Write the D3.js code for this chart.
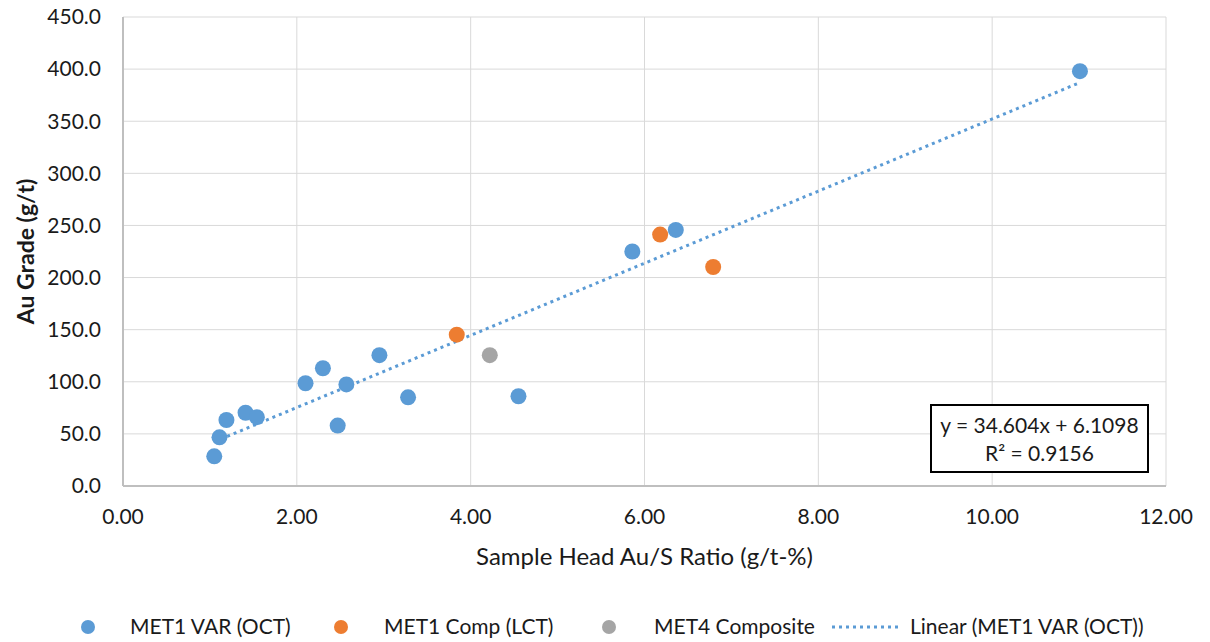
<!DOCTYPE html>
<html>
<head>
<meta charset="utf-8">
<script src="https://cdn.jsdelivr.net/npm/d3@7"></script>
<style>
  body { margin: 0; background: #fff; }
  text { font-family: Lato, "Open Sans", sans-serif; fill: #1a1a1a; }
</style>
</head>
<body>
<svg id="chart" width="1210" height="642"></svg>
<script>
// series values
const varX = [1.05, 1.11, 1.19, 1.41, 1.54, 2.10, 2.30, 2.47, 2.57, 2.95, 3.28, 4.55, 5.86, 6.36, 11.01];
const varY = [28.5, 46.7, 63.3, 70.3, 66.0, 98.6, 113.0, 58.0, 97.5, 125.5, 85.1, 86.1, 225.0, 245.7, 398.0];
const compX = [3.84, 6.18, 6.79];
const compY = [145.2, 241.2, 210.1];
const met4X = [4.22];
const met4Y = [125.5];

const trendSlope = 34.604, trendIntercept = 6.1098, trendR2 = 0.9156;

const xTicks = [0, 2, 4, 6, 8, 10, 12];
const yTicks = [0, 50, 100, 150, 200, 250, 300, 350, 400, 450];

const seriesNames = ["MET1 VAR (OCT)", "MET1 Comp (LCT)", "MET4 Composite", "Linear (MET1 VAR (OCT))"];
const colors = ["#5B9BD5", "#ED7D31", "#A5A5A5"];

const svg = d3.select("#chart");
const plotL = 123, plotR = 1166, plotT = 17, plotB = 486;

const x = d3.scaleLinear().domain([0, 12]).range([plotL, plotR]);
const y = d3.scaleLinear().domain([0, 450]).range([plotB, plotT]);

// grid
svg.append("g")
  .selectAll("line")
  .data(yTicks.filter(d => d > 0))
  .enter().append("line")
  .attr("x1", plotL).attr("x2", plotR)
  .attr("y1", d => y(d)).attr("y2", d => y(d))
  .attr("stroke", "#d9d9d9").attr("stroke-width", 1);

svg.append("g")
  .selectAll("line")
  .data(xTicks.filter(d => d > 0))
  .enter().append("line")
  .attr("x1", d => x(d)).attr("x2", d => x(d))
  .attr("y1", plotT).attr("y2", plotB)
  .attr("stroke", "#d9d9d9").attr("stroke-width", 1);

// axis lines
svg.append("line").attr("x1", plotL).attr("x2", plotR).attr("y1", plotB).attr("y2", plotB)
  .attr("stroke", "#bfbfbf").attr("stroke-width", 2);
svg.append("line").attr("x1", plotL).attr("x2", plotL).attr("y1", plotT).attr("y2", plotB)
  .attr("stroke", "#bfbfbf").attr("stroke-width", 2);

// tick labels
svg.append("g").selectAll("text")
  .data(yTicks).enter().append("text")
  .attr("x", 101).attr("y", d => y(d))
  .attr("dy", "0.35em")
  .attr("text-anchor", "end")
  .attr("font-size", 21)
  .text(d => d3.format(".1f")(d));

svg.append("g").selectAll("text")
  .data(xTicks).enter().append("text")
  .attr("x", d => x(d)).attr("y", 517)
  .attr("dy", "0.35em")
  .attr("text-anchor", "middle")
  .attr("font-size", 21)
  .text(d => d3.format(".2f")(d));

// axis titles
svg.append("text")
  .attr("x", (plotL + plotR) / 2).attr("y", 557)
  .attr("dy", "0.35em")
  .attr("text-anchor", "middle")
  .attr("font-size", 24)
  .text("Sample Head Au/S Ratio (g/t-%)");

svg.append("text")
  .attr("transform", `translate(26,${(plotT + plotB) / 2}) rotate(-90)`)
  .attr("dy", "0.35em")
  .attr("text-anchor", "middle")
  .attr("font-size", 23)
  .attr("font-weight", "bold")
  .text("Au Grade (g/t)");

// trendline over the MET1 VAR range
const tx = d3.extent(varX);
svg.append("line")
  .attr("x1", x(tx[0])).attr("y1", y(trendSlope * tx[0] + trendIntercept))
  .attr("x2", x(tx[1])).attr("y2", y(trendSlope * tx[1] + trendIntercept))
  .attr("stroke", colors[0]).attr("stroke-width", 3)
  .attr("stroke-dasharray", "3 4");

// points
function drawPoints(xs, ys, color) {
  svg.append("g").selectAll("circle")
    .data(xs.map((d, i) => [d, ys[i]]))
    .enter().append("circle")
    .attr("cx", d => x(d[0])).attr("cy", d => y(d[1]))
    .attr("r", 8)
    .attr("fill", color);
}
drawPoints(varX, varY, colors[0]);
drawPoints(compX, compY, colors[1]);
drawPoints(met4X, met4Y, colors[2]);

// equation box
const eq = svg.append("g");
eq.append("rect")
  .attr("x", 931).attr("y", 405).attr("width", 217).attr("height", 67)
  .attr("fill", "#fff").attr("stroke", "#000").attr("stroke-width", 2);
eq.append("text")
  .attr("x", 1039.5).attr("y", 426).attr("dy", "0.35em")
  .attr("text-anchor", "middle").attr("font-size", 21)
  .text(`y = ${trendSlope}x + ${trendIntercept}`);
eq.append("text")
  .attr("x", 1039.5).attr("y", 454).attr("dy", "0.35em")
  .attr("text-anchor", "middle").attr("font-size", 21)
  .text(`R² = ${trendR2}`);

// legend
const legendY = 627;
const legendMarkX = [88, 341, 609];
const legendTextX = [130, 384, 654, 910];
legendMarkX.forEach((mx, i) => {
  svg.append("circle").attr("cx", mx).attr("cy", legendY).attr("r", 7).attr("fill", colors[i]);
});
svg.append("line")
  .attr("x1", 832).attr("x2", 899).attr("y1", legendY).attr("y2", legendY)
  .attr("stroke", colors[0]).attr("stroke-width", 3).attr("stroke-dasharray", "3 4");
seriesNames.forEach((name, i) => {
  svg.append("text")
    .attr("x", legendTextX[i]).attr("y", legendY).attr("dy", "0.35em")
    .attr("font-size", 21)
    .text(name);
});
</script>
</body>
</html>
